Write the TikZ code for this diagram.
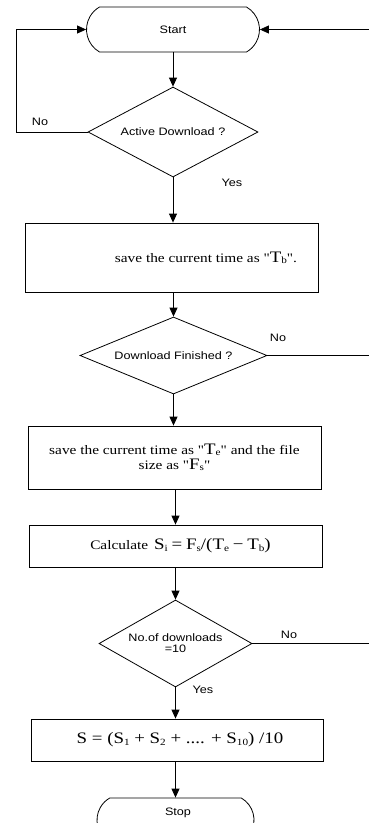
\documentclass[tikz,border=0pt]{standalone}
\usepackage{fontspec}
\usetikzlibrary{shapes.geometric,shapes.misc,arrows.meta}
\newfontfamily\sansf[FakeStretch=1.17]{Liberation Sans}
\newfontfamily\seriff[FakeStretch=1.18]{Liberation Serif}
\newcommand\mv[2]{{\fontsize{16}{16}\selectfont #1}{\fontsize{9.5}{9.5}\selectfont\raisebox{-0.3ex}{#2}}}
\newcommand\ml[1]{{\fontsize{16}{16}\selectfont #1}}
\begin{document}
\begin{tikzpicture}[x=1pt,y=-1pt,line width=0.8pt,
  arr/.style={-{Triangle[length=9pt,width=8pt]}},
  term/.style={draw,rounded rectangle,rounded rectangle arc length=120,inner sep=0pt,font=\sansf\fontsize{10.8}{11}\selectfont},
  dec/.style={draw,diamond,inner sep=0pt,align=center,font=\sansf\fontsize{10.8}{11}\selectfont},
  proc/.style={draw,rectangle,inner sep=0pt,align=center,font=\seriff\fontsize{13}{15}\selectfont},
  lbl/.style={inner sep=0pt,font=\sansf\fontsize{10.8}{11}\selectfont}]
\useasboundingbox (0,0) rectangle (369,823);
\node[term,minimum width=173pt,minimum height=45pt] (start) at (173,29.5) {Start};
\node[dec,aspect=1.89,minimum width=170pt,minimum height=90pt] (d1) at (173,132) {Active Download ?};
\node[proc,minimum width=293pt,minimum height=69pt] (b1) at (171.5,257.5) {\hspace*{69pt}save the current time as "\mv{T}{b}".};
\node[dec,aspect=2.43,minimum width=187pt,minimum height=77pt] (d2) at (173.5,355.5) {Download Finished ?};
\node[proc,minimum width=293pt,minimum height=63pt] (b2) at (174.5,457.5) {save the current time as "\mv{T}{e}" and the file\\size as "\mv{F}{s}"};
\node[proc,minimum width=293pt,minimum height=42pt] (b3) at (175.5,546) {\hspace*{10pt}Calculate\hspace{6pt}\mv{S}{i} \ml{=} \mv{F}{s}\ml{/(}\mv{T}{e} \ml{−} \mv{T}{b}\ml{)}};
\node[dec,aspect=1.76,minimum width=153pt,minimum height=87pt] (d3) at (175.5,643.5) {No.of downloads\\=10};
\node[proc,minimum width=292pt,minimum height=42pt] (b4) at (177,740) {\hspace*{6pt}\ml{S = (S}\raisebox{-0.3ex}{\fontsize{9.5}{9.5}\selectfont 1}\ml{ + S}\raisebox{-0.3ex}{\fontsize{9.5}{9.5}\selectfont 2}\ml{ + .... + S}\raisebox{-0.3ex}{\fontsize{9.5}{9.5}\selectfont 10}\ml{) /10}};
\node[term,minimum width=157pt,minimum height=44pt] (stop) at (175.5,820) {};
\node[lbl] (stopt) at (178,813) {Stop};
\node[lbl] (no1) at (40,122) {No};
\node[lbl] (yes1) at (232,183) {Yes};
\node[lbl] (no2) at (278,338) {No};
\node[lbl] (no3) at (289,635) {No};
\node[lbl] (yes3) at (203,690) {Yes};
\coordinate (lx) at (16,80);
\coordinate (rx) at (369,0);
\draw[arr] (start.south) -- (start.south |- d1.north);
\draw[arr] (d1.south) -- (d1.south |- b1.north);
\draw[arr] (d2.north |- b1.south) -- (d2.north);
\draw[arr] (d2.south) -- (d2.south |- b2.north);
\draw[arr] (b3.north |- b2.south) -- (b3.north);
\draw[arr] (b3.south) -- (b3.south |- d3.north);
\draw[arr] (d3.south) -- (d3.south |- b4.north);
\draw[arr] (b4.south -| stop.north) -- (stop.north);
\draw[arr] (d1.west) -- (d1.west -| lx) -- (start.west -| lx) -- (start.west);
\draw[arr] (start.east -| rx) -- (start.east);
\draw (d2.east) -- (d2.east -| rx);
\draw (d3.east) -- (d3.east -| rx);
\end{tikzpicture}
\end{document}
